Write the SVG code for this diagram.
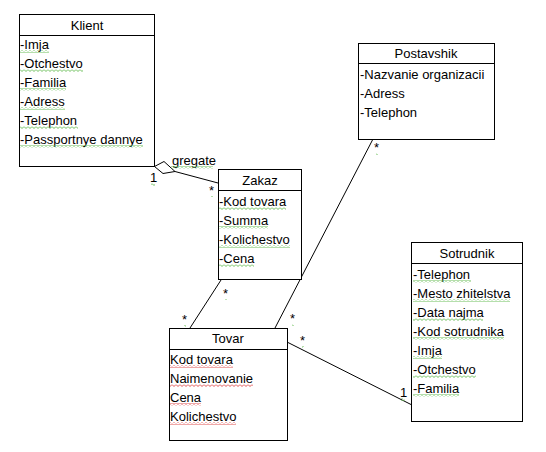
<svg xmlns="http://www.w3.org/2000/svg" width="546" height="452" viewBox="0 0 546 452">
<style>
text{font-family:"Liberation Sans",Arial,sans-serif;font-size:13px;fill:#000}
.t{text-anchor:middle}
.box{fill:#fff;stroke:#000;stroke-width:1}
.ln{stroke:#000;stroke-width:1;fill:none}
.sg{fill:url(#sqg)}
.sr{fill:url(#sqr)}
</style>
<defs>
<pattern id="sqg" width="4" height="3" patternUnits="userSpaceOnUse"><path d="M0 0.5 L2 2.5 L4 0.5" stroke="#6cbf5a" stroke-width="1" fill="none"/></pattern>
<pattern id="sqr" width="4" height="3" patternUnits="userSpaceOnUse"><path d="M0 0.5 L2 2.5 L4 0.5" stroke="#e05050" stroke-width="1" fill="none"/></pattern>
</defs>
<rect width="546" height="452" fill="#fff"/>
<g id="connectors">
<path class="ln" d="M154.5 166.5 L164 161.5 L175 171.5 L163 173.5 Z" fill="#fff"/>
<line class="ln" x1="175" y1="171.5" x2="218" y2="183"/>
<line class="ln" x1="221" y1="280" x2="190" y2="328"/>
<line class="ln" x1="373" y1="139" x2="275" y2="328"/>
<line class="ln" x1="287" y1="342" x2="412" y2="405"/>
<text x="172" y="165">gregate</text><rect class="sg" x="171" y="166" width="42" height="3"/>
<text x="150" y="182">1</text><rect class="sg" x="151" y="183" width="4" height="3"/>
<text x="209" y="195">*</text><rect class="sg" x="211" y="196" width="2" height="2"/>
<text x="223" y="298">*</text><rect class="sg" x="225" y="299" width="2" height="2"/>
<text x="182" y="324">*</text><rect class="sg" x="184" y="325" width="2" height="2"/>
<text x="374" y="152">*</text><rect class="sg" x="376" y="153" width="2" height="2"/>
<text x="290" y="323">*</text><rect class="sg" x="292" y="324" width="2" height="2"/>
<text x="300" y="345">*</text><rect class="sg" x="302" y="346" width="2" height="2"/>
<text x="400" y="397">1</text><rect class="sg" x="401" y="398" width="4" height="3"/>
</g>
<g id="klient">
<rect class="box" x="19.5" y="14.5" width="135" height="152"/>
<line class="ln" x1="19.5" y1="35.5" x2="154.5" y2="35.5"/>
<text class="t" x="87" y="30">Klient</text>
<text x="20" y="49">-Imja</text><rect class="sg" x="20" y="50" width="29" height="3"/>
<text x="20" y="68">-Otchestvo</text><rect class="sg" x="20" y="69" width="63" height="3"/>
<text x="20" y="87">-Familia</text><rect class="sg" x="20" y="88" width="46" height="3"/>
<text x="20" y="106">-Adress</text><rect class="sg" x="20" y="107" width="45" height="3"/>
<text x="20" y="125">-Telephon</text><rect class="sg" x="20" y="126" width="58" height="3"/>
<text x="20" y="144">-Passportnye dannye</text><rect class="sg" x="20" y="145" width="123" height="3"/>
</g>
<g id="zakaz">
<rect class="box" x="218.5" y="169.5" width="83" height="110"/>
<line class="ln" x1="218.5" y1="190.5" x2="301.5" y2="190.5"/>
<text class="t" x="260" y="185">Zakaz</text>
<text x="219" y="206">-Kod tovara</text><rect class="sg" x="219" y="207" width="67" height="3"/>
<text x="219" y="225">-Summa</text><rect class="sg" x="219" y="226" width="49" height="3"/>
<text x="219" y="244">-Kolichestvo</text><rect class="sg" x="219" y="245" width="71" height="3"/>
<text x="219" y="263">-Cena</text><rect class="sg" x="219" y="264" width="35" height="3"/>
</g>
<g id="postavshik">
<rect class="box" x="358.5" y="43.5" width="136" height="96"/>
<line class="ln" x1="358.5" y1="63.5" x2="494.5" y2="63.5"/>
<text class="t" x="426" y="58">Postavshik</text>
<text x="360" y="79">-Nazvanie organizacii</text>
<text x="360" y="98">-Adress</text>
<text x="360" y="117">-Telephon</text>
</g>
<g id="tovar">
<rect class="box" x="169.5" y="328.5" width="118" height="112"/>
<line class="ln" x1="169.5" y1="349.5" x2="287.5" y2="349.5"/>
<text class="t" x="228" y="343">Tovar</text>
<text x="170" y="364">Kod tovara</text><rect class="sr" x="170" y="365" width="63" height="3"/>
<text x="170" y="383">Naimenovanie</text><rect class="sr" x="170" y="384" width="83" height="3"/>
<text x="170" y="402">Cena</text><rect class="sr" x="170" y="403" width="31" height="3"/>
<text x="170" y="421">Kolichestvo</text><rect class="sr" x="170" y="422" width="66" height="3"/>
</g>
<g id="sotrudnik">
<rect class="box" x="411.5" y="242.5" width="111" height="179"/>
<line class="ln" x1="411.5" y1="263.5" x2="522.5" y2="263.5"/>
<text class="t" x="467" y="258">Sotrudnik</text>
<text x="413" y="279">-Telephon</text><rect class="sg" x="413" y="280" width="58" height="3"/>
<text x="413" y="298">-Mesto zhitelstva</text><rect class="sg" x="413" y="299" width="97" height="3"/>
<text x="413" y="317">-Data najma</text><rect class="sg" x="413" y="318" width="70" height="3"/>
<text x="413" y="336">-Kod sotrudnika</text><rect class="sg" x="413" y="337" width="91" height="3"/>
<text x="413" y="355">-Imja</text><rect class="sg" x="413" y="356" width="29" height="3"/>
<text x="413" y="374">-Otchestvo</text><rect class="sg" x="413" y="375" width="63" height="3"/>
<text x="413" y="393">-Familia</text><rect class="sg" x="413" y="394" width="46" height="3"/>
</g>
</svg>
